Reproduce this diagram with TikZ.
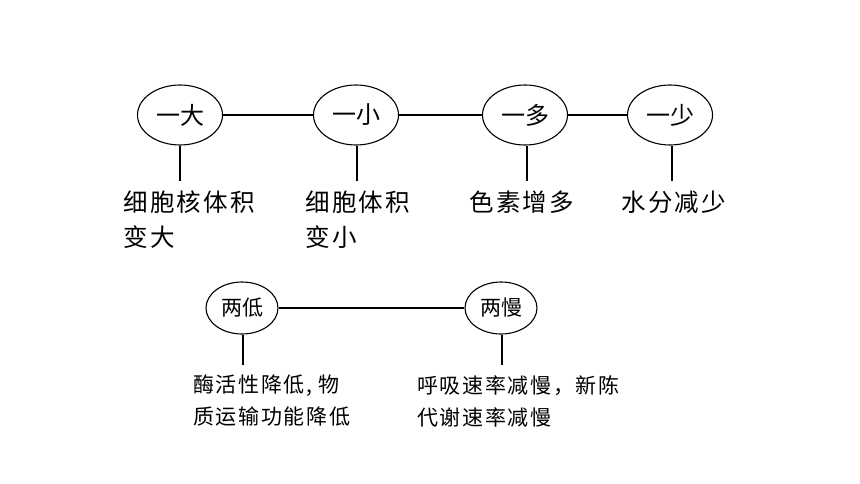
\documentclass[tikz,border=0pt]{standalone}
\usepackage{fontspec}
\setmainfont{Liberation Serif}
\newfontfamily\cjk{Noto Sans CJK SC}
\newfontfamily\cjkwide{Noto Sans CJK SC}[LetterSpace=9.5]
\newfontfamily\cjkmid{Noto Sans CJK SC}[LetterSpace=8]
\usetikzlibrary{shapes.geometric}
\tikzset{
  bigell/.style={ellipse, draw, line width=1.1pt, minimum width=85pt, minimum height=60pt, inner sep=0pt, font=\cjk\fontsize{24}{28}\selectfont},
  smallell/.style={ellipse, draw, line width=1.1pt, minimum width=72pt, minimum height=52pt, inner sep=0pt, font=\cjk\fontsize{21}{25}\selectfont},
  toptext/.style={anchor=north west, inner sep=0pt, align=left, font=\cjkwide\fontsize{24.5}{35}\selectfont},
  bottext/.style={anchor=north west, inner sep=0pt, align=left, font=\cjkmid\fontsize{21}{32}\selectfont},
  conn/.style={line width=1.1pt}
}
\begin{document}
\begin{tikzpicture}[x=1pt,y=-1pt]
\useasboundingbox (0,0) rectangle (860,484);
% top row
\node[bigell] (a1) at (180,115) {一大};
\node[bigell] (a2) at (356,115) {一小};
\node[bigell] (a3) at (525,115) {一多};
\node[bigell] (a4) at (670,115) {一少};
\draw[conn] (a1) -- (a2);
\draw[conn] (a2) -- (a3);
\draw[conn] (a3) -- (a4);
\coordinate (c1) at (180,181);
\coordinate (c2) at (357,181);
\coordinate (c3) at (527,181);
\coordinate (c4) at (672,181);
\draw[conn] (a1.south) -- (c1);
\draw[conn] (a2.south -| c2) -- (c2);
\draw[conn] (a3.south -| c3) -- (c3);
\draw[conn] (a4.south -| c4) -- (c4);
\node[toptext] (t1) at (123,191) {细胞核体积\\变大};
\node[toptext] (t2) at (305,191) {细胞体积\\变小};
\node[toptext] (t3) at (469,191) {色素增多};
\node[toptext] (t4) at (621,191) {水分减少};
% bottom row
\node[smallell] (b1) at (242,308) {两低};
\node[smallell] (b2) at (501,308) {两慢};
\draw[conn] (b1) -- (b2);
\coordinate (d1) at (243,365);
\coordinate (d2) at (502,365);
\draw[conn] (b1.south -| d1) -- (d1);
\draw[conn] (b2.south -| d2) -- (d2);
\node[bottext] (s1) at (193,375) {酶活性降低, 物\\质运输功能降低};
\node[bottext] (s2) at (417,375) {呼吸速率减慢，新陈\\代谢速率减慢};
\end{tikzpicture}
\end{document}
